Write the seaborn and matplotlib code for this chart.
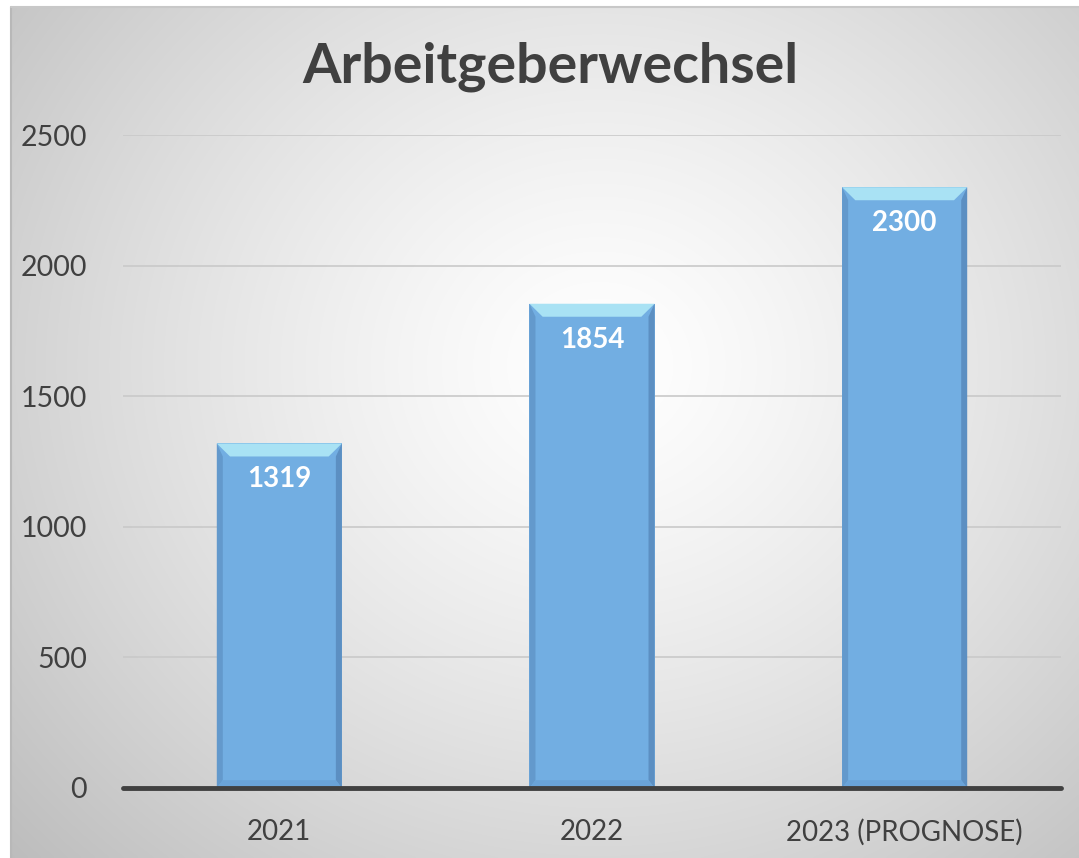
import numpy as np
import pandas as pd
import matplotlib
matplotlib.use("Agg")
import matplotlib.pyplot as plt
from matplotlib.patches import Polygon
import seaborn as sns

categories = ["2021", "2022", "2023 (PROGNOSE)"]
values = [1319, 1854, 2300]
yticks = [0, 500, 1000, 1500, 2000, 2500]
title = "Arbeitgeberwechsel"

sns.set_theme(style="white")
plt.rcParams["font.family"] = ["Lato", "DejaVu Sans"]

W, H = 1079, 858
fig = plt.figure(figsize=(W / 100, H / 100), dpi=100)
fig.patch.set_facecolor("white")

# background panel with radial gradient
bg = fig.add_axes([11 / W, 0, 1 - 11 / W, 1 - 7 / H], zorder=-5)
ny, nx = 400, 500
yy, xx = np.mgrid[0:ny, 0:nx]
cx, cy = 0.55 * nx, 0.42 * ny
r = np.sqrt(((xx - cx) / (0.75 * nx)) ** 2 + ((yy - cy) / (0.85 * ny)) ** 2)
v = np.clip(1 - 0.26 * r ** 1.3, 0, 1)
img = np.dstack([v, v, v])
bg.imshow(img, aspect="auto", extent=[0, 1, 0, 1], origin="upper", interpolation="bicubic")
bg.set_axis_off()
fig.add_artist(plt.Line2D([11 / W, 11 / W], [0, 1 - 7 / H], color="#b8b8b8", lw=1.5))
fig.add_artist(plt.Line2D([11 / W, 1], [1 - 7 / H, 1 - 7 / H], color="#c8c8c8", lw=1.5))

ax = fig.add_axes([123 / W, (H - 788) / H, (1061 - 123) / W, (788 - 135) / H])
ax.patch.set_alpha(0)

df = pd.DataFrame({"cat": categories, "val": values})
sns.barplot(data=df, x="cat", y="val", ax=ax, color="#72AEE2", width=0.4,
            saturation=1, edgecolor="none", zorder=3)

ax.set_ylim(0, 2500)
ax.set_xlim(-0.5, len(categories) - 0.5)
ax.set_yticks(yticks)
ax.set_yticklabels([str(t) for t in yticks])
ax.grid(axis="y", color="#c9c9c9", lw=1.2, zorder=0)
ax.set_axisbelow(True)
for s in ax.spines.values():
    s.set_visible(False)
ax.axhline(0, color="#404040", lw=3.5, zorder=5, clip_on=False)
ax.set_xlabel("")
ax.set_ylabel("")
ax.tick_params(axis="y", length=0, pad=26, labelsize=20.5, labelcolor="#404040")
ax.tick_params(axis="x", length=0, pad=22, labelsize=20, labelcolor="#404040")

# bevel effect derived from each bar patch
ppy = 2500 / (788 - 135)  # data units per pixel in y
ppx = 1.0 / 312.5
for p in ax.patches:
    x0, y0 = p.get_x(), p.get_y()
    w, h = p.get_width(), p.get_height()
    bx, by = 6 * ppx, 13 * ppy
    sx = 6 * ppx
    top = Polygon([[x0, y0 + h], [x0 + w, y0 + h], [x0 + w - bx * 2.2, y0 + h - by], [x0 + bx * 2.2, y0 + h - by]],
                  closed=True, facecolor="#A9E2F4", edgecolor="none", zorder=4)
    ax.add_patch(top)
    left = Polygon([[x0, y0], [x0, y0 + h], [x0 + sx, y0 + h - by], [x0 + sx, y0 + by * 0.6]],
                   closed=True, facecolor="#6399CC", edgecolor="none", zorder=4)
    right = Polygon([[x0 + w, y0], [x0 + w, y0 + h], [x0 + w - sx, y0 + h - by], [x0 + w - sx, y0 + by * 0.6]],
                    closed=True, facecolor="#5C8FC2", edgecolor="none", zorder=4)
    bottom = Polygon([[x0, y0], [x0 + w, y0], [x0 + w - sx, y0 + by * 0.6], [x0 + sx, y0 + by * 0.6]],
                     closed=True, facecolor="#6AA3D8", edgecolor="none", zorder=4)
    for q in (left, right, bottom):
        ax.add_patch(q)
    ax.text(x0 + w / 2, y0 + h - 36 * ppy, f"{int(round(h))}", ha="center", va="center",
            color="white", fontsize=20, fontweight="bold", zorder=6)

fig.text(550 / W, 1 - 67 / H, title, ha="center", va="center", fontsize=40,
         fontweight="bold", color="#404040")

fig.savefig("out.png", dpi=100)
